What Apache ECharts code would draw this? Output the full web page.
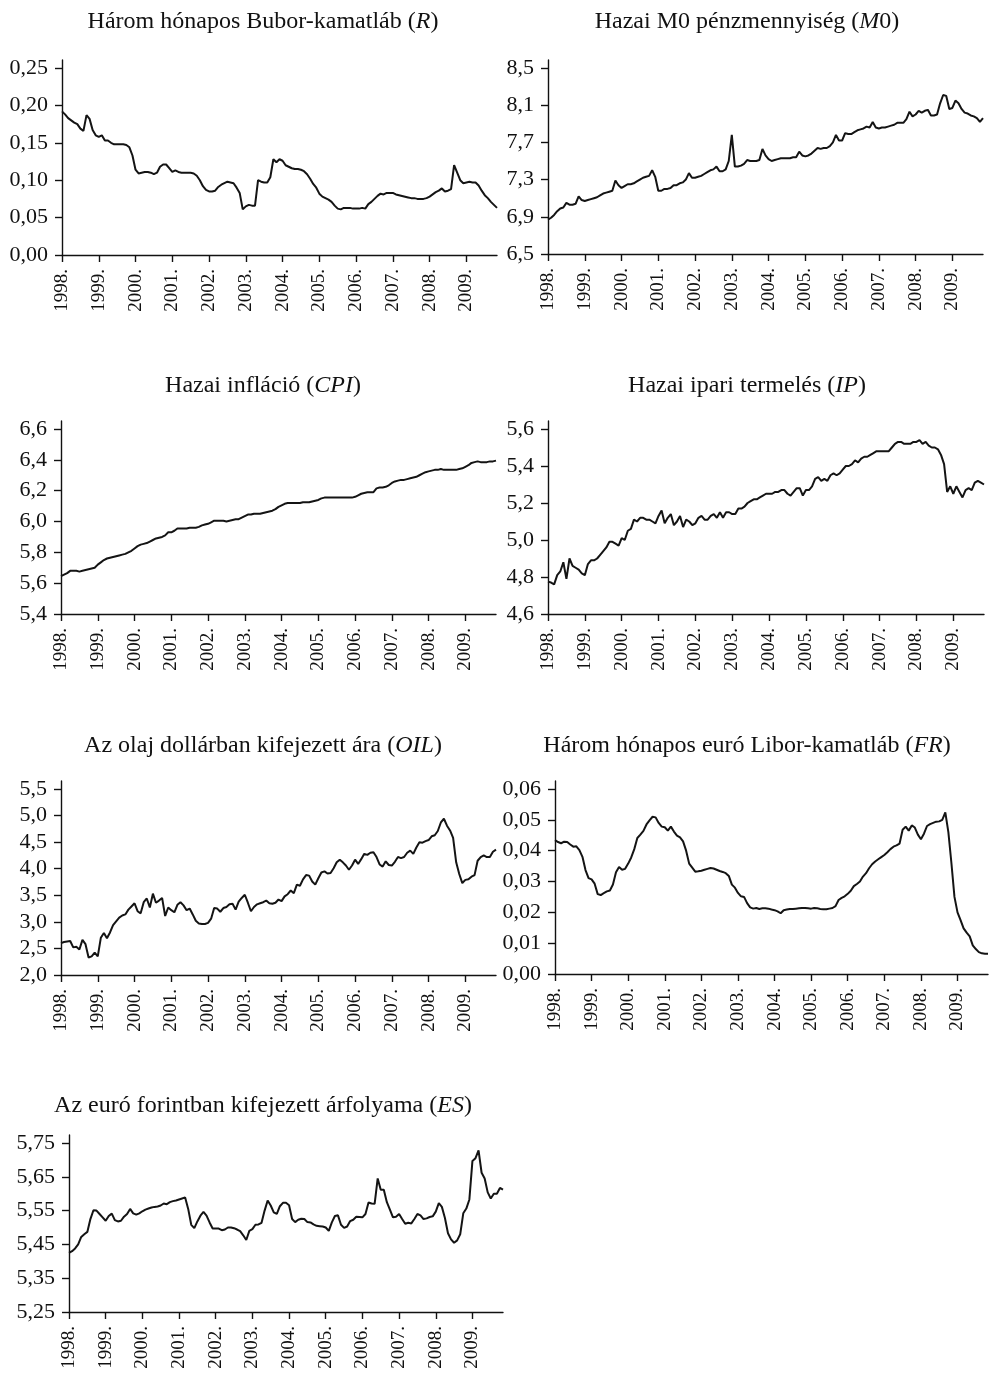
<!DOCTYPE html>
<html>
<head>
<meta charset="utf-8">
<script src="https://cdn.jsdelivr.net/npm/echarts@6/dist/echarts.min.js"></script>
<style>
html,body{margin:0;padding:0;background:#fff;}
#c{width:989px;height:1374px;}
</style>
</head>
<body>
<div id="c"></div>
<script>
// ---- categories: monthly, Jan 1998 .. Nov 2009 ----
const months = [];
for (let y = 1998; y <= 2009; y++) {
  for (let m = 1; m <= 12; m++) {
    if (months.length < 143) months.push(y + '.' + (m < 10 ? '0' + m : m));
  }
}

// ---- series values ----
const R = [0.192,0.188,0.183,0.180,0.177,0.175,0.169,0.166,0.187,0.182,0.167,0.160,
0.158,0.160,0.153,0.153,0.150,0.148,0.148,0.148,0.148,0.147,0.144,0.133,
0.114,0.109,0.110,0.111,0.111,0.110,0.108,0.110,0.118,0.121,0.121,0.116,
0.111,0.113,0.111,0.110,0.110,0.110,0.110,0.109,0.106,0.100,0.092,0.087,
0.085,0.085,0.086,0.091,0.094,0.096,0.098,0.097,0.096,0.090,0.083,0.061,
0.065,0.067,0.066,0.066,0.100,0.098,0.097,0.097,0.104,0.128,0.124,0.128,
0.126,0.120,0.118,0.116,0.115,0.115,0.114,0.112,0.108,0.102,0.095,0.090,
0.082,0.078,0.076,0.074,0.071,0.066,0.062,0.061,0.063,0.063,0.063,0.062,
0.062,0.062,0.063,0.062,0.068,0.071,0.075,0.079,0.082,0.081,0.083,0.083,
0.083,0.081,0.080,0.079,0.078,0.077,0.076,0.076,0.075,0.075,0.075,0.076,
0.078,0.081,0.084,0.086,0.089,0.085,0.086,0.088,0.120,0.110,0.100,0.096,
0.097,0.098,0.097,0.097,0.093,0.086,0.080,0.076,0.071,0.067,0.063];

const M0 = [6.87,6.89,6.92,6.96,6.99,7.00,7.05,7.03,7.03,7.04,7.12,7.08,
7.07,7.08,7.09,7.10,7.11,7.13,7.15,7.16,7.17,7.18,7.29,7.24,
7.21,7.23,7.25,7.25,7.26,7.28,7.30,7.32,7.33,7.34,7.40,7.33,
7.18,7.18,7.20,7.20,7.21,7.24,7.24,7.26,7.27,7.30,7.37,7.32,
7.32,7.33,7.34,7.36,7.38,7.40,7.41,7.44,7.39,7.39,7.41,7.50,
7.78,7.44,7.44,7.45,7.47,7.51,7.50,7.50,7.50,7.51,7.63,7.56,
7.52,7.50,7.51,7.52,7.53,7.53,7.53,7.53,7.54,7.54,7.60,7.56,
7.55,7.56,7.58,7.61,7.64,7.63,7.64,7.64,7.66,7.70,7.78,7.72,
7.72,7.80,7.79,7.79,7.81,7.83,7.84,7.85,7.87,7.86,7.92,7.86,
7.85,7.86,7.86,7.87,7.88,7.89,7.91,7.91,7.91,7.95,8.03,7.98,
8.00,8.04,8.02,8.04,8.05,7.99,7.99,8.00,8.12,8.21,8.20,8.06,
8.07,8.15,8.12,8.06,8.02,8.01,7.99,7.98,7.96,7.92,7.96];

const CPI = [5.645,5.655,5.665,5.680,5.680,5.680,5.675,5.680,5.685,5.690,5.695,5.700,
5.720,5.735,5.750,5.760,5.765,5.770,5.775,5.780,5.785,5.790,5.800,5.810,
5.825,5.840,5.850,5.855,5.860,5.870,5.880,5.890,5.895,5.900,5.910,5.930,
5.930,5.940,5.955,5.955,5.955,5.955,5.960,5.960,5.960,5.965,5.975,5.980,
5.985,5.995,6.005,6.005,6.005,6.005,6.000,6.005,6.010,6.015,6.015,6.025,
6.035,6.045,6.045,6.050,6.050,6.050,6.055,6.060,6.065,6.070,6.080,6.095,
6.105,6.115,6.120,6.120,6.120,6.120,6.120,6.125,6.125,6.125,6.130,6.135,
6.140,6.150,6.155,6.155,6.155,6.155,6.155,6.155,6.155,6.155,6.155,6.155,
6.160,6.170,6.180,6.185,6.190,6.190,6.190,6.215,6.220,6.220,6.225,6.235,
6.250,6.260,6.265,6.270,6.270,6.275,6.280,6.285,6.290,6.300,6.310,6.320,
6.325,6.330,6.335,6.335,6.340,6.335,6.335,6.335,6.335,6.335,6.340,6.345,
6.355,6.365,6.380,6.385,6.390,6.385,6.385,6.385,6.390,6.390,6.395];

const IP = [4.775,4.77,4.76,4.81,4.83,4.88,4.79,4.90,4.86,4.85,4.84,4.82,
4.81,4.87,4.89,4.89,4.90,4.92,4.94,4.96,4.99,4.99,4.98,4.97,
5.01,5.00,5.05,5.06,5.11,5.10,5.12,5.12,5.11,5.11,5.10,5.09,
5.13,5.16,5.09,5.12,5.14,5.08,5.10,5.13,5.07,5.11,5.10,5.08,
5.09,5.12,5.13,5.11,5.11,5.13,5.14,5.12,5.15,5.12,5.15,5.15,
5.14,5.14,5.17,5.17,5.18,5.20,5.21,5.22,5.22,5.23,5.24,5.25,
5.25,5.25,5.26,5.26,5.27,5.27,5.25,5.24,5.26,5.28,5.28,5.24,
5.27,5.27,5.29,5.33,5.34,5.32,5.33,5.32,5.35,5.36,5.35,5.36,
5.38,5.40,5.40,5.41,5.43,5.42,5.44,5.45,5.45,5.46,5.47,5.48,
5.48,5.48,5.48,5.48,5.50,5.52,5.53,5.53,5.52,5.52,5.52,5.53,
5.53,5.54,5.52,5.53,5.51,5.50,5.50,5.49,5.46,5.41,5.26,5.29,
5.25,5.29,5.26,5.23,5.27,5.28,5.27,5.31,5.32,5.31,5.30];

const OIL = [2.60,2.62,2.63,2.64,2.52,2.53,2.48,2.66,2.58,2.33,2.35,2.42,
2.35,2.70,2.79,2.69,2.80,2.94,3.01,3.08,3.12,3.14,3.23,3.29,
3.35,3.20,3.16,3.37,3.44,3.27,3.53,3.36,3.40,3.45,3.11,3.27,
3.22,3.18,3.32,3.37,3.31,3.22,3.25,3.14,3.02,2.97,2.96,2.96,
2.98,3.06,3.26,3.25,3.19,3.26,3.28,3.33,3.34,3.23,3.38,3.45,
3.51,3.36,3.20,3.28,3.33,3.35,3.37,3.40,3.35,3.34,3.36,3.42,
3.39,3.48,3.52,3.59,3.54,3.70,3.68,3.80,3.88,3.87,3.76,3.70,
3.82,3.93,3.95,3.91,3.92,4.01,4.12,4.17,4.12,4.06,3.98,4.06,
4.17,4.09,4.18,4.28,4.26,4.30,4.31,4.22,4.08,4.04,4.14,4.07,
4.06,4.13,4.22,4.20,4.22,4.30,4.34,4.28,4.40,4.50,4.49,4.52,
4.54,4.61,4.63,4.71,4.87,4.94,4.81,4.72,4.58,4.12,3.90,3.73,
3.79,3.80,3.85,3.88,4.15,4.22,4.25,4.22,4.22,4.32,4.36];

const FR = [0.0434,0.0428,0.0424,0.0429,0.0428,0.0420,0.0413,0.0414,0.0402,0.0380,0.0337,0.0311,
0.0307,0.0293,0.0259,0.0256,0.0262,0.0268,0.0271,0.0290,0.0330,0.0347,0.0338,0.0341,
0.0358,0.0378,0.0405,0.0441,0.0452,0.0464,0.0485,0.0498,0.0510,0.0508,0.0490,0.0478,
0.0476,0.0465,0.0478,0.0462,0.0449,0.0443,0.0430,0.0400,0.0358,0.0345,0.0332,0.0333,
0.0335,0.0338,0.0341,0.0344,0.0342,0.0338,0.0334,0.0331,0.0327,0.0318,0.0290,0.0280,
0.0263,0.0252,0.0250,0.0230,0.0216,0.0212,0.0214,0.0211,0.0213,0.0213,0.0212,0.0209,
0.0207,0.0203,0.0197,0.0207,0.0209,0.0211,0.0211,0.0212,0.0213,0.0214,0.0214,0.0213,
0.0212,0.0214,0.0213,0.0211,0.0210,0.0210,0.0212,0.0214,0.0220,0.0240,0.0247,0.0252,
0.0260,0.0270,0.0285,0.0292,0.0300,0.0316,0.0327,0.0343,0.0356,0.0365,0.0372,0.0379,
0.0386,0.0395,0.0405,0.0413,0.0417,0.0423,0.0468,0.0478,0.0465,0.0482,0.0475,0.0452,
0.0437,0.0455,0.0480,0.0486,0.0490,0.0494,0.0495,0.0500,0.0524,0.0460,0.0360,0.0250,
0.0200,0.0175,0.0148,0.0134,0.0122,0.0093,0.0081,0.0071,0.0067,0.0066,0.0066];

const ES = [5.425,5.430,5.438,5.450,5.472,5.480,5.487,5.525,5.551,5.550,5.540,5.530,
5.520,5.534,5.541,5.522,5.518,5.520,5.532,5.540,5.555,5.542,5.538,5.542,
5.548,5.553,5.556,5.559,5.561,5.562,5.565,5.571,5.569,5.575,5.578,5.580,
5.583,5.586,5.589,5.555,5.508,5.498,5.518,5.535,5.546,5.535,5.515,5.497,
5.497,5.497,5.492,5.494,5.500,5.500,5.498,5.494,5.489,5.477,5.463,5.490,
5.495,5.508,5.509,5.514,5.550,5.580,5.565,5.545,5.540,5.563,5.573,5.573,
5.566,5.525,5.516,5.523,5.526,5.525,5.516,5.515,5.509,5.505,5.504,5.503,
5.500,5.490,5.515,5.534,5.536,5.508,5.499,5.503,5.519,5.523,5.532,5.531,
5.530,5.540,5.574,5.571,5.570,5.645,5.612,5.612,5.575,5.553,5.530,5.532,
5.540,5.525,5.511,5.514,5.512,5.525,5.540,5.536,5.525,5.527,5.531,5.533,
5.547,5.572,5.561,5.528,5.483,5.465,5.455,5.462,5.480,5.542,5.556,5.583,
5.697,5.705,5.728,5.662,5.645,5.604,5.586,5.600,5.600,5.617,5.612];

// ---- tick values (y axes) ----
const ticksR   = [0, 0.05, 0.10, 0.15, 0.20, 0.25];
const ticksM0  = [6.5, 6.9, 7.3, 7.7, 8.1, 8.5];
const ticksCPI = [5.4, 5.6, 5.8, 6.0, 6.2, 6.4, 6.6];
const ticksIP  = [4.6, 4.8, 5.0, 5.2, 5.4, 5.6];
const ticksOIL = [2.0, 2.5, 3.0, 3.5, 4.0, 4.5, 5.0, 5.5];
const ticksFR  = [0, 0.01, 0.02, 0.03, 0.04, 0.05, 0.06];
const ticksES  = [5.25, 5.35, 5.45, 5.55, 5.65, 5.75];

// ---- titles ----
const titleNames = [
  ['Három hónapos Bubor-kamatláb (', 'R', ')'],
  ['Hazai M0 pénzmennyiség (', 'M', '0)'],
  ['Hazai infláció (', 'CPI', ')'],
  ['Hazai ipari termelés (', 'IP', ')'],
  ['Az olaj dollárban kifejezett ára (', 'OIL', ')'],
  ['Három hónapos euró Libor-kamatláb (', 'FR', ')'],
  ['Az euró forintban kifejezett árfolyama (', 'ES', ')']
];

const FONT = "'Liberation Serif', 'DejaVu Serif', serif";

// layout: plot box (axis x, top tick y, bottom y, right end), title centre
const panels = [
  {data: R,   ticks: ticksR,   dec: 2, left: 62,  right: 497, topTick: 68,  bottom: 255, tx: 258, ty: 19},
  {data: M0,  ticks: ticksM0,  dec: 1, left: 548, right: 983, topTick: 68,  bottom: 254, tx: 742, ty: 19},
  {data: CPI, ticks: ticksCPI, dec: 1, left: 61,  right: 496, topTick: 429, bottom: 614, tx: 258, ty: 383},
  {data: IP,  ticks: ticksIP,  dec: 1, left: 548, right: 984, topTick: 429, bottom: 614, tx: 742, ty: 383},
  {data: OIL, ticks: ticksOIL, dec: 1, left: 61,  right: 496, topTick: 789, bottom: 975, tx: 258, ty: 743},
  {data: FR,  ticks: ticksFR,  dec: 2, left: 555, right: 988, topTick: 789, bottom: 974, tx: 742, ty: 743},
  {data: ES,  ticks: ticksES,  dec: 2, left: 69,  right: 503, topTick: 1143, bottom: 1312, tx: 258, ty: 1103}
];

const EXT = 8; // axis line extends above top tick
const grids = [], xAxes = [], yAxes = [], series = [], titles = [];

panels.forEach((p, i) => {
  const tmin = p.ticks[0], tmax = p.ticks[p.ticks.length - 1];
  const pxRange = p.bottom - p.topTick;
  const ymax = tmax + EXT / pxRange * (tmax - tmin);
  grids.push({left: p.left, top: p.topTick - EXT, width: p.right - p.left, height: p.bottom - p.topTick + EXT});
  xAxes.push({
    type: 'category', gridIndex: i, data: months, boundaryGap: false,
    axisLine: {lineStyle: {color: '#111', width: 1.4}},
    axisTick: {length: 7, interval: (idx) => idx % 12 === 0, lineStyle: {color: '#111', width: 1.4}},
    axisLabel: {
      interval: (idx) => idx % 12 === 0, rotate: 90, margin: 14,
      formatter: (v) => v.slice(0, 5),
      fontFamily: FONT, fontSize: 19, color: '#111'
    },
    splitLine: {show: false}
  });
  yAxes.push({
    type: 'value', gridIndex: i, min: tmin, max: ymax,
    axisLine: {show: true, lineStyle: {color: '#111', width: 1.4}},
    axisTick: {show: true, length: 7, customValues: p.ticks, lineStyle: {color: '#111', width: 1.4}},
    axisLabel: {
      customValues: p.ticks, margin: 14,
      formatter: (v) => v.toFixed(p.dec).replace('.', ','),
      fontFamily: FONT, fontSize: 22, color: '#111'
    },
    splitLine: {show: false}
  });
  series.push({
    type: 'line', xAxisIndex: i, yAxisIndex: i, data: p.data,
    showSymbol: false, symbol: 'none',
    lineStyle: {color: '#141414', width: 2},
    animation: false
  });
  const t = titleNames[i];
  titles.push({
    text: '{n|' + t[0] + '}{it|' + t[1] + '}{n|' + t[2] + '}',
    left: p.tx, top: p.ty - 14, textAlign: 'center',
    textStyle: {
      fontWeight: 'normal',
      rich: {
        n: {fontFamily: FONT, fontSize: 24, fontWeight: 'normal', color: '#111'},
        it: {fontFamily: FONT, fontSize: 24, fontWeight: 'normal', fontStyle: 'italic', color: '#111'}
      }
    }
  });
});

const chart = echarts.init(document.getElementById('c'), null, {renderer: 'canvas'});
chart.setOption({
  backgroundColor: '#fff',
  animation: false,
  title: titles,
  grid: grids,
  xAxis: xAxes,
  yAxis: yAxes,
  series: series
});
</script>
</body>
</html>
